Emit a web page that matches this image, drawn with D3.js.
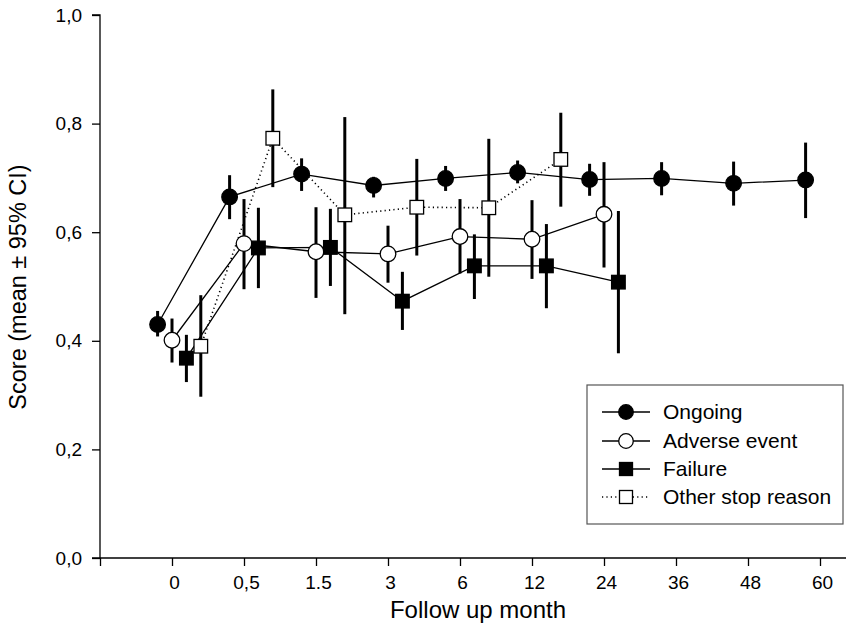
<!DOCTYPE html>
<html>
<head>
<meta charset="utf-8">
<script src="https://cdn.jsdelivr.net/npm/d3@7"></script>
<style>
  body { margin: 0; background: #fff; }
  svg { display: block; font-family: "Liberation Sans", Arial, Helvetica, sans-serif; }
</style>
</head>
<body>
<svg id="chart" width="847" height="625"></svg>
<script>
// ---- data ----
const categories = ["", "0", "0,5", "1.5", "3", "6", "12", "24", "36", "48", "60"];
const yTicks = [0, 0.2, 0.4, 0.6, 0.8, 1.0];

const ongoingCats = ["0", "0,5", "1.5", "3", "6", "12", "24", "36", "48", "60"];
const ongoingMean = [0.430, 0.665, 0.707, 0.686, 0.699, 0.710, 0.697, 0.699, 0.690, 0.696];
const ongoingLow  = [0.408, 0.624, 0.676, 0.664, 0.676, 0.690, 0.667, 0.668, 0.649, 0.626];
const ongoingHigh = [0.455, 0.705, 0.736, 0.702, 0.722, 0.732, 0.726, 0.729, 0.730, 0.765];

const adverseCats = ["0", "0,5", "1.5", "3", "6", "12", "24"];
const adverseMean = [0.401, 0.579, 0.564, 0.560, 0.592, 0.587, 0.633];
const adverseLow  = [0.360, 0.495, 0.479, 0.507, 0.524, 0.514, 0.535];
const adverseHigh = [0.441, 0.661, 0.646, 0.612, 0.661, 0.659, 0.729];

const failureCats = ["0", "0,5", "1.5", "3", "6", "12", "24"];
const failureMean = [0.368, 0.571, 0.572, 0.473, 0.538, 0.538, 0.508];
const failureLow  = [0.324, 0.497, 0.501, 0.420, 0.477, 0.460, 0.377];
const failureHigh = [0.411, 0.645, 0.643, 0.527, 0.596, 0.615, 0.639];

const otherCats = ["0", "0,5", "1.5", "3", "6", "12"];
const otherMean = [0.390, 0.773, 0.632, 0.646, 0.645, 0.734];
const otherLow  = [0.297, 0.683, 0.449, 0.557, 0.518, 0.647];
const otherHigh = [0.484, 0.863, 0.812, 0.735, 0.772, 0.820];

const seriesNames = ["Ongoing", "Adverse event", "Failure", "Other stop reason"];

// ---- build ----
function build(cats, mean, low, high) {
  return cats.map((c, i) => ({ cat: c, mean: mean[i], low: low[i], high: high[i] }));
}
const series = [
  { name: seriesNames[0], data: build(ongoingCats, ongoingMean, ongoingLow, ongoingHigh), shift: -0.2, shape: "circle", fill: "#000", dash: null },
  { name: seriesNames[1], data: build(adverseCats, adverseMean, adverseLow, adverseHigh), shift: 0.0, shape: "circle", fill: "#fff", dash: null },
  { name: seriesNames[2], data: build(failureCats, failureMean, failureLow, failureHigh), shift: 0.2, shape: "square", fill: "#000", dash: null },
  { name: seriesNames[3], data: build(otherCats, otherMean, otherLow, otherHigh), shift: 0.4, shape: "square", fill: "#fff", dash: "1.2,3.2" }
];

const svg = d3.select("#chart");
const x = d3.scalePoint().domain(categories).range([100, 820]);
const y = d3.scaleLinear().domain([0, 1]).range([558, 15]);
const step = x.step();
const px = (s, d) => x(d.cat) + s.shift * step;

// axes
const yAxis = d3.axisLeft(y).tickValues(yTicks).tickSize(8).tickPadding(10)
  .tickFormat(d => d3.format(".1f")(d).replace(".", ","));
const gy = svg.append("g").attr("transform", "translate(100,0)").call(yAxis);
gy.select(".domain").attr("d", "M-8,15H0V558");

const xAxis = d3.axisBottom(x).tickSize(8).tickPadding(10);
const gx = svg.append("g").attr("transform", "translate(0,558)").call(xAxis);
gx.select(".domain").attr("d", "M92,0H846");
gx.selectAll(".tick text").attr("dx", 2);

svg.selectAll(".tick text").attr("font-size", 19).attr("fill", "#000")
  .attr("font-family", "'Liberation Sans', Arial, sans-serif");
svg.selectAll(".tick line").attr("stroke", "#000").attr("stroke-width", 1.3);
svg.selectAll(".domain").attr("stroke", "#000").attr("stroke-width", 1.3);

svg.append("text").attr("x", 478).attr("y", 618).attr("text-anchor", "middle")
  .attr("font-size", 24).text("Follow up month");
svg.append("text").attr("transform", "translate(26,287) rotate(-90)")
  .attr("text-anchor", "middle").attr("font-size", 23.5).text("Score (mean ± 95% CI)");

// error bars
series.forEach(s => {
  svg.append("g").selectAll("line").data(s.data).join("line")
    .attr("x1", d => px(s, d)).attr("x2", d => px(s, d))
    .attr("y1", d => y(d.low)).attr("y2", d => y(d.high))
    .attr("stroke", "#000").attr("stroke-width", 3);
});

// connecting lines
const line = d3.line();
series.forEach(s => {
  svg.append("path")
    .attr("d", line(s.data.map(d => [px(s, d), y(d.mean)])))
    .attr("fill", "none").attr("stroke", "#000").attr("stroke-width", s.dash ? 1.6 : 1.3)
    .attr("stroke-dasharray", s.dash);
});

// markers
function marker(g, shape, fill, cx, cy, size) {
  if (shape === "circle") {
    g.append("circle").attr("cx", cx).attr("cy", cy).attr("r", size)
      .attr("fill", fill).attr("stroke", "#000").attr("stroke-width", 1.3);
  } else {
    g.append("rect").attr("x", cx - size).attr("y", cy - size)
      .attr("width", size * 2).attr("height", size * 2)
      .attr("fill", fill).attr("stroke", "#000").attr("stroke-width", 1.3);
  }
}
series.forEach(s => {
  const g = svg.append("g");
  s.data.forEach(d => marker(g, s.shape, s.fill, px(s, d), y(d.mean), s.shape === "circle" ? 7.8 : 6.8));
});

// legend
const lg = svg.append("g");
lg.append("rect").attr("x", 587).attr("y", 385).attr("width", 256).attr("height", 139)
  .attr("fill", "#fff").attr("stroke", "#555").attr("stroke-width", 1.2);
const rowY = [412, 441, 469, 497];
series.forEach((s, i) => {
  lg.append("line").attr("x1", 602).attr("x2", 650).attr("y1", rowY[i]).attr("y2", rowY[i])
    .attr("stroke", "#000").attr("stroke-width", s.dash ? 1.6 : 1.3).attr("stroke-dasharray", s.dash);
  marker(lg, s.shape, s.fill, 626, rowY[i], s.shape === "circle" ? 7.3 : 6.5);
  lg.append("text").attr("x", 663).attr("y", rowY[i]).attr("dy", "0.35em")
    .attr("font-size", 21).text(s.name);
});
</script>
</body>
</html>
